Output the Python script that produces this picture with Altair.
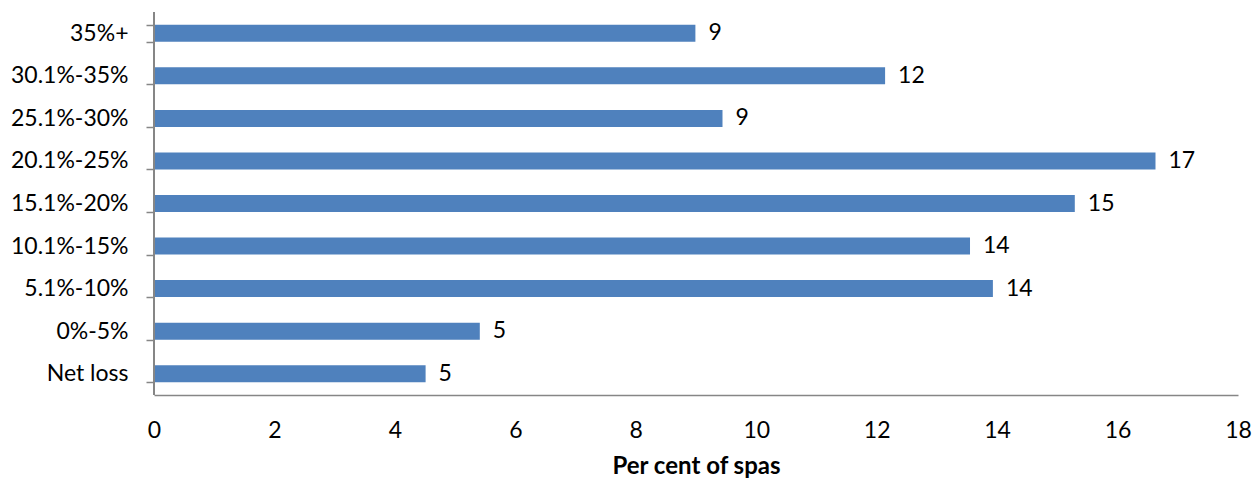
import altair as alt
import pandas as pd

# Profit-margin bands, listed top to bottom
bands = ["35%+", "30.1%-35%", "25.1%-30%", "20.1%-25%", "15.1%-20%",
         "10.1%-15%", "5.1%-10%", "0%-5%", "Net loss"]
# Share of spas in each band (per cent)
shares = [8.99, 12.14, 9.44, 16.63, 15.29, 13.55, 13.93, 5.41, 4.51]
x_ticks = [0, 2, 4, 6, 8, 10, 12, 14, 16, 18]

df = pd.DataFrame({"band": bands, "share": shares})

FONT = "Lato"
AXIS_GREY = "#868686"
FS = 23
PLOT_H = 383

y_enc = alt.Y(
    "band:N", sort=bands, title=None,
    scale=alt.Scale(paddingInner=0.6, paddingOuter=0.3),
    axis=alt.Axis(tickBand="extent", tickSize=8, tickColor=AXIS_GREY,
                  tickWidth=1.5, domain=False, labelFontSize=FS,
                  labelColor="black", labelPadding=18, labelFont=FONT),
)
x_enc = alt.X(
    "share:Q", title="Per cent of spas",
    scale=alt.Scale(domain=[0, 18], nice=False),
    axis=alt.Axis(values=x_ticks, format="d", grid=False, ticks=False,
                  labelFlush=False, domainColor=AXIS_GREY, domainWidth=1.5,
                  labelFontSize=FS, labelColor="black",
                  labelPadding=24, labelFont=FONT, titleFont=FONT,
                  titleFontSize=24, titleFontWeight="bold", titleColor="black",
                  titlePadding=12),
)

# vertical axis line along the left edge of the plot
y_line = alt.Chart(df).mark_rule(color=AXIS_GREY, strokeWidth=2).encode(
    x=alt.value(0), y=alt.value(0), y2=alt.value(PLOT_H)
)

bars = alt.Chart(df).mark_bar(color="#4F81BD").encode(x=x_enc, y=y_enc)
labels = alt.Chart(df).mark_text(
    align="left", baseline="middle", dx=13, fontSize=FS, font=FONT, color="black"
).encode(x="share:Q", y=alt.Y("band:N", sort=bands), text=alt.Text("share:Q", format=".0f"))

chart = (bars + labels + y_line).properties(
    width=1084, height=PLOT_H,
    background="white",
    autosize=alt.AutoSizeParams(type="none"),
    padding={"left": 154, "top": 12, "right": 21, "bottom": 89},
).configure_view(stroke=None)

chart.save("out.html", embed_options={"renderer": "svg", "actions": False})
